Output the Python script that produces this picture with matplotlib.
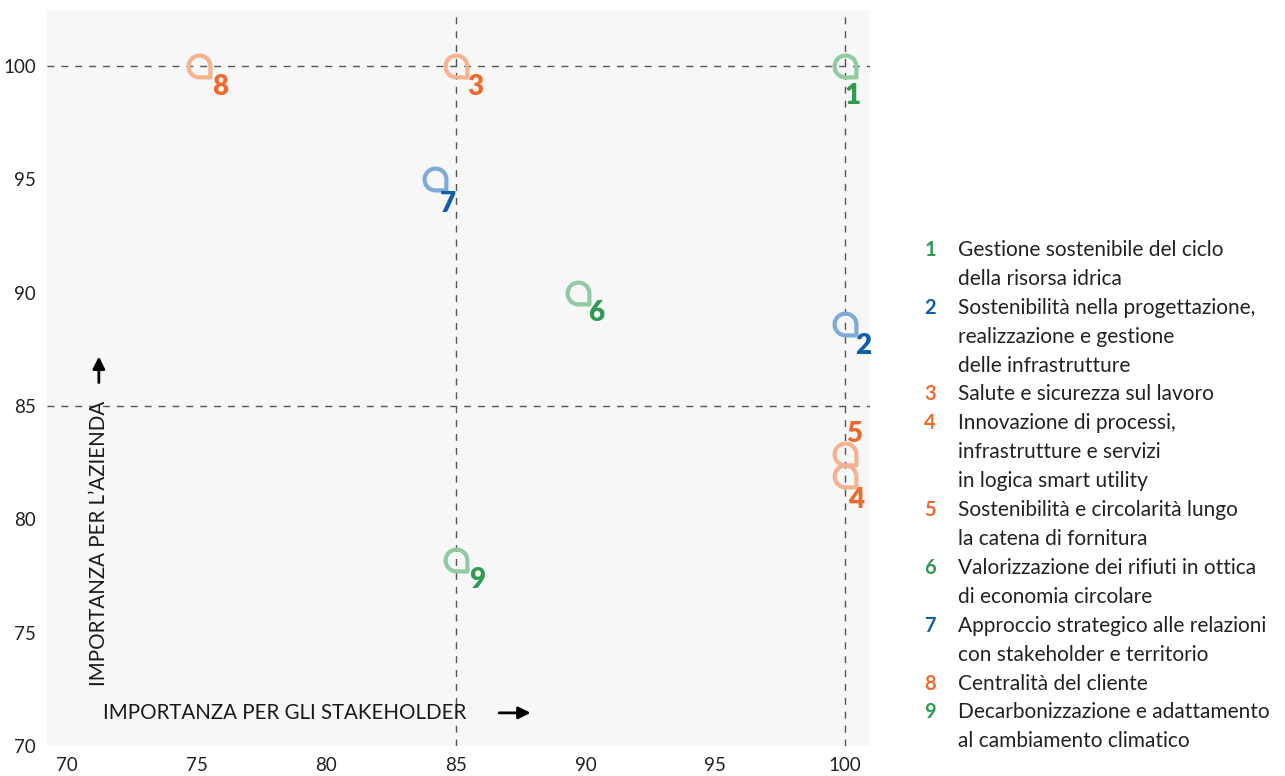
import matplotlib
matplotlib.use("Agg")
import matplotlib.pyplot as plt
from matplotlib.path import Path

# data
topic_ids = [1, 2, 3, 4, 5, 6, 7, 8, 9]
stakeholder = [100, 100, 85, 100, 100, 89.7, 84.2, 75.1, 85]
azienda = [100, 88.6, 100, 81.9, 82.9, 90, 95, 100, 78.2]
groups = ["green", "blue", "orange", "orange", "orange", "green", "blue", "orange", "green"]
topics = [
    "Gestione sostenibile del ciclo\ndella risorsa idrica",
    "Sostenibilità nella progettazione,\nrealizzazione e gestione\ndelle infrastrutture",
    "Salute e sicurezza sul lavoro",
    "Innovazione di processi,\ninfrastrutture e servizi\nin logica smart utility",
    "Sostenibilità e circolarità lungo\nla catena di fornitura",
    "Valorizzazione dei rifiuti in ottica\ndi economia circolare",
    "Approccio strategico alle relazioni\ncon stakeholder e territorio",
    "Centralità del cliente",
    "Decarbonizzazione e adattamento\nal cambiamento climatico",
]
x_ticks = [70, 75, 80, 85, 90, 95, 100]
y_ticks = [70, 75, 80, 85, 90, 95, 100]
threshold_lines = [85, 100]

# styling
light = {"green": "#8fcaa3", "blue": "#7eabd6", "orange": "#f4b291"}
dark = {"green": "#2f9a50", "blue": "#0d5fa9", "orange": "#ee6a2c"}
# label offsets in pixels (dx, dy) from the marker
offsets = [(8, -30), (18, -22), (19, -21), (11, -24), (9, 20),
           (18, -20), (13, -25), (21, -21), (21, -20)]

plt.rcParams['font.family'] = ['Lato', 'DejaVu Sans']

# teardrop marker: 3/4 circle with a square corner at bottom right
arc = Path.arc(0, 270)
verts = list(arc.vertices) + [(1, -1), (1, 0)]
codes = list(arc.codes) + [Path.LINETO, Path.LINETO]
drop = Path(verts, codes)

fig = plt.figure(figsize=(12.85, 7.76), dpi=100)
ax = fig.add_axes([47 / 1285, 30 / 776, 823 / 1285, 736 / 776])
ax.set_facecolor("#f7f7f7")

for v in threshold_lines:
    ax.axvline(v, color="#555555", lw=1, ls=(0, (5, 5)), zorder=1)
    ax.axhline(v, color="#555555", lw=1, ls=(0, (5, 5)), zorder=1)

for i in range(len(topic_ids)):
    g = groups[i]
    ax.plot(stakeholder[i], azienda[i], marker=drop, ms=16, mfc="none",
            mec=light[g], mew=3, ls="none", zorder=3)
    ax.annotate(str(topic_ids[i]), (stakeholder[i], azienda[i]),
                xytext=offsets[i], textcoords="offset pixels",
                ha="center", va="center", fontsize=20, fontweight="heavy",
                color=dark[g], zorder=4)

ax.set_xlim(69.23, 100.97)
ax.set_ylim(70, 102.47)
ax.set_xticks(x_ticks)
ax.set_yticks(y_ticks)
ax.tick_params(length=0, labelsize=13.5, pad=8, colors="#222222")
for s in ax.spines.values():
    s.set_visible(False)

# axis titles with arrows
ax.text(0.068, 0.045, "IMPORTANZA PER GLI STAKEHOLDER", transform=ax.transAxes,
        fontsize=14.8, ha="left", va="center", color="#1a1a1a")
ax.annotate("", xy=(0.591, 0.045), xytext=(0.546, 0.045), xycoords="axes fraction",
            arrowprops=dict(arrowstyle="-|>", lw=2, color="black", mutation_scale=18))
ax.text(0.063, 0.0815, "IMPORTANZA PER L\u2019AZIENDA", transform=ax.transAxes,
        fontsize=14.8, ha="center", va="bottom", rotation=90, color="#1a1a1a")
ax.annotate("", xy=(0.063, 0.533), xytext=(0.063, 0.49), xycoords="axes fraction",
            arrowprops=dict(arrowstyle="-|>", lw=2, color="black", mutation_scale=18))

# legend on the right, one text per line
line_h = 28.9
y0 = 776 - 250
n_lines = 0
for i in range(len(topic_ids)):
    y = (y0 - n_lines * line_h) / 776
    fig.text(930 / 1285, y, str(topic_ids[i]), fontsize=14.5, fontweight="bold",
             color=dark[groups[i]], ha="center", va="center")
    for line in topics[i].split("\n"):
        y = (y0 - n_lines * line_h) / 776
        fig.text(958 / 1285, y, line, fontsize=15, color="#222222",
                 ha="left", va="center")
        n_lines += 1

fig.savefig("out.png", dpi=100)
